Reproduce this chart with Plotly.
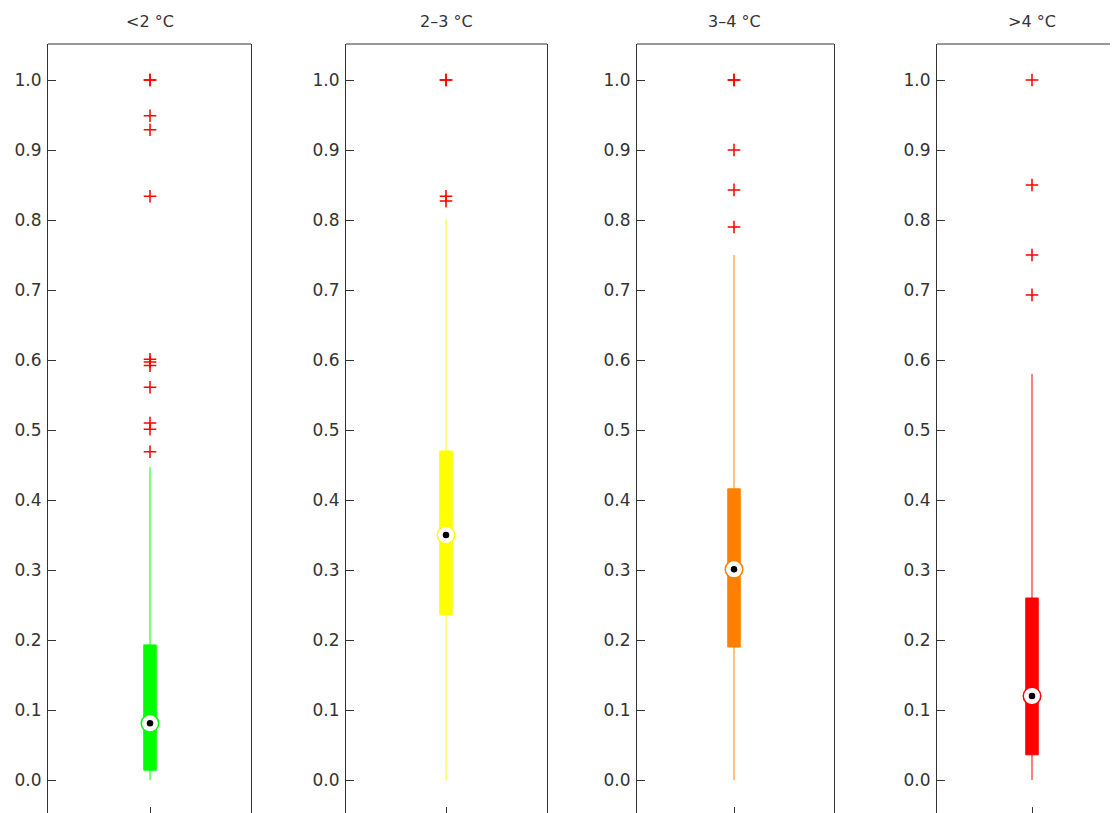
import plotly.graph_objects as go

titles = ["<2 °C", "2–3 °C", "3–4 °C", ">4 °C"]
colors = ["#00FF00", "#FFFF00", "#FF8000", "#FF0000"]
q1 = [0.014, 0.236, 0.190, 0.036]
median = [0.081, 0.350, 0.301, 0.120]
q3 = [0.193, 0.470, 0.416, 0.260]
lowerfence = [0.0, 0.0, 0.0, 0.0]
upperfence = [0.447, 0.800, 0.750, 0.580]
outliers = [
    [1.0, 1.0, 0.949, 0.929, 0.834, 0.601, 0.597, 0.592, 0.561, 0.510, 0.501, 0.469],
    [1.0, 1.0, 0.834, 0.827],
    [1.0, 1.0, 0.900, 0.843, 0.790],
    [1.0, 0.850, 0.750, 0.693],
]
yticks = [0.0, 0.1, 0.2, 0.3, 0.4, 0.5, 0.6, 0.7, 0.8, 0.9, 1.0]

W, H = 1118, 813
OFF = 8  # page body margin
panels_px = [(48 - OFF, 251 - OFF), (346 - OFF, 547 - OFF), (637 - OFF, 834 - OFF), (937 - OFF, 1118)]
centers_px = [150 - OFF, 446 - OFF, 734 - OFF, 1032 - OFF]
top_px, bot_px = 44 - OFF, 814 - OFF
y1_px, y0_px = 80 - OFF, 780 - OFF
ppu = y0_px - y1_px
yrange = [(y0_px - bot_px) / ppu, (y0_px - top_px) / ppu]
ydomain = [(H - bot_px) / H, (H - top_px) / H]

FONT = "DejaVu Sans"
fig = go.Figure()
layout = dict(width=W, height=H, margin=dict(l=0, r=0, t=0, b=0),
              paper_bgcolor="white", plot_bgcolor="white", showlegend=False,
              font=dict(family=FONT, size=17, color="#333"))
shapes = []
annotations = []
for i in range(4):
    n = "" if i == 0 else str(i + 1)
    x0, x1 = panels_px[i]
    c = centers_px[i]
    half = c - x0
    xr = [1 - 0.5, 1 + 0.5 * (x1 - c) / half]
    bw = 12.5 / (2 * half)
    layout["xaxis" + n] = dict(domain=[x0 / W, x1 / W], range=xr, showgrid=False, zeroline=False,
                               showline=False, tickvals=[1], ticktext=[""], ticks="inside",
                               ticklen=7, tickcolor="#333", anchor="y" + n)
    layout["yaxis" + n] = dict(domain=ydomain, range=yrange, showgrid=False, zeroline=False,
                               showline=True, linecolor="#333", linewidth=1,
                               mirror=True, tickvals=yticks, tickformat=".1f",
                               ticks="inside", ticklen=8, tickcolor="#333",
                               ticklabelstandoff=2,
                               tickfont=dict(family=FONT, size=17, color="#333"), anchor="x" + n)
    shapes.append(dict(type="line", xref="x" + n + " domain", yref="y" + n + " domain",
                       x0=0, x1=1, y0=1, y1=1, line=dict(color="#333", width=1)))
    annotations.append(dict(text=titles[i], xref="x" + n, yref="paper",
                            x=1, y=1 - (21 - OFF) / H, showarrow=False,
                            xanchor="center", yanchor="middle",
                            font=dict(family=FONT, size=16, color="#333")))
    xa, ya = "x" + n, "y" + n
    fig.add_trace(go.Box(x=[1], q1=[q1[i]], median=[median[i]], q3=[q3[i]],
                         lowerfence=[lowerfence[i]], upperfence=[upperfence[i]],
                         width=bw, whiskerwidth=0, fillcolor=colors[i],
                         line=dict(color=colors[i], width=1), boxpoints=False,
                         hoverinfo="skip", xaxis=xa, yaxis=ya))
    fig.add_trace(go.Scatter(x=[1] * len(outliers[i]), y=outliers[i], mode="markers",
                             marker=dict(symbol="cross-thin", size=9, color="red",
                                         line=dict(color="red", width=1.5)),
                             xaxis=xa, yaxis=ya))
    fig.add_trace(go.Scatter(x=[1], y=[median[i]], mode="markers",
                             marker=dict(symbol="circle", size=17.5, color="white",
                                         line=dict(color=colors[i], width=1.5)),
                             xaxis=xa, yaxis=ya))
    fig.add_trace(go.Scatter(x=[1], y=[median[i]], mode="markers",
                             marker=dict(symbol="circle", size=6.5, color="black"),
                             xaxis=xa, yaxis=ya))

layout["shapes"] = shapes
layout["annotations"] = annotations
fig.update_layout(**layout)
fig.write_html("out.html")
